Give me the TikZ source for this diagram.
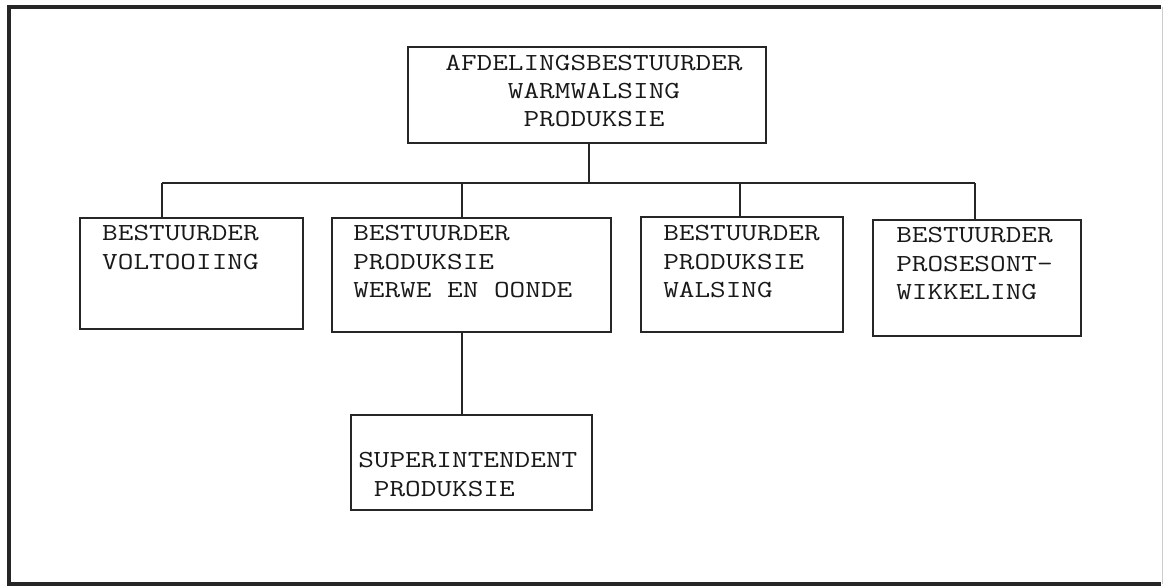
\documentclass[tikz,border=0pt]{standalone}
\begin{document}
\begin{tikzpicture}[x=1pt,y=-1pt,
  orgbox/.style={draw=black!85, line width=2.4pt, rectangle, inner sep=0pt},
  lbl/.style={inner sep=0pt, font=\fontsize{24.5}{28.3}\selectfont\ttfamily, xscale=1.24, text=black!90},
  conn/.style={draw=black!85, line width=2.4pt}]
\useasboundingbox (0,0) rectangle (1166,587);
\fill[white] (0,0) rectangle (1166,587);
% frame
\draw[line width=3.2pt, black!85] (1161,7) -- (9,7) -- (9,584) -- (1161,584);
\draw[line width=1pt, black!20] (1162,7) -- (1162,584);
% boxes
\node[orgbox, minimum width=358pt, minimum height=96pt] (top) at (587,95) {};
\node[orgbox, minimum width=223pt, minimum height=111pt] (b1) at (191.5,273.5) {};
\node[orgbox, minimum width=279pt, minimum height=114pt] (b2) at (471.5,275) {};
\node[orgbox, minimum width=202pt, minimum height=115pt] (b3) at (742,274.5) {};
\node[orgbox, minimum width=208pt, minimum height=116pt] (b4) at (977,278) {};
\node[orgbox, minimum width=241pt, minimum height=95pt] (sup) at (471.5,462.5) {};
% texts
\node[lbl, anchor=north, align=center] (ttop) at (594,54.5) {AFDELINGSBESTUURDER\\WARMWALSING\\PRODUKSIE};
\node[lbl, anchor=north west, align=left] (tb1) at (102,225.5) {BESTUURDER\\VOLTOOIING};
\node[lbl, anchor=north west, align=left] (tb2) at (353,225.5) {BESTUURDER\\PRODUKSIE\\WERWE EN OONDE};
\node[lbl, anchor=north west, align=left] (tb3) at (663,225.5) {BESTUURDER\\PRODUKSIE\\WALSING};
\node[lbl, anchor=north west, align=left] (tb4) at (896,227.5) {BESTUURDER\\PROSESONT-\\WIKKELING};
\node[lbl, anchor=north west, align=left] (tsup) at (358,452.5) {SUPERINTENDENT\\~PRODUKSIE};
% connectors
\coordinate (busL) at (162,183);
\coordinate (busR) at (975,183);
\coordinate (d2) at (462,183);
\coordinate (d3) at (740,183);
\coordinate (dt) at (589,183);
\draw[conn] (busL) -- (busR);
\draw[conn] (dt |- top.south) -- (dt);
\draw[conn] (busL) -- (busL |- b1.north);
\draw[conn] (d2) -- (d2 |- b2.north);
\draw[conn] (d3) -- (d3 |- b3.north);
\draw[conn] (busR) -- (busR |- b4.north);
\draw[conn] (d2 |- b2.south) -- (d2 |- sup.north);
\end{tikzpicture}
\end{document}
